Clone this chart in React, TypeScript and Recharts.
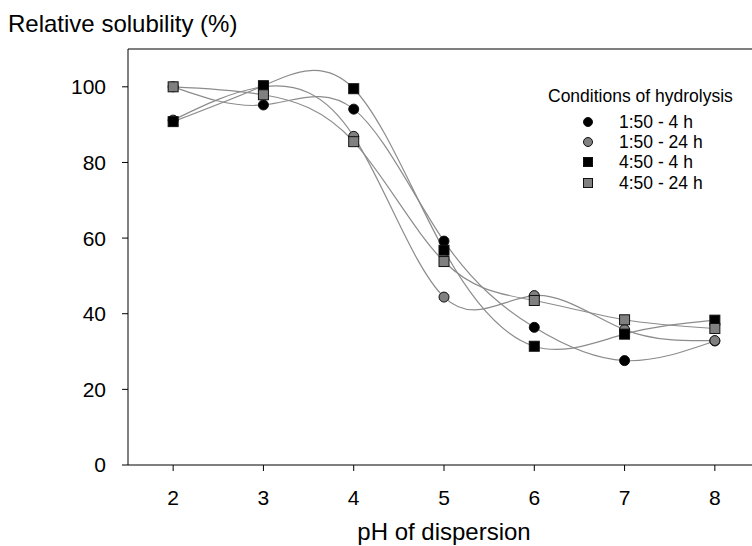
import React from "react";
import {
  LineChart,
  Line,
  XAxis,
  YAxis,
  ReferenceLine,
} from "recharts";

// pH values on the x axis
const PH = [2, 3, 4, 5, 6, 7, 8];

// relative solubility (%) per hydrolysis condition
const S_150_4H = [100, 95.2, 94.1, 59.2, 36.4, 27.6, 32.8];
const S_150_24H = [91.2, 100, 86.9, 44.4, 44.8, 35.8, 32.9];
const S_450_4H = [90.8, 100.3, 99.5, 56.8, 31.4, 34.6, 38.3];
const S_450_24H = [100, 97.9, 85.5, 53.8, 43.5, 38.4, 36.1];

const Y_TICKS = [0, 20, 40, 60, 80, 100];

type Shape = "circle" | "square";

const SERIES: { key: string; name: string; shape: Shape; fill: string; values: number[] }[] = [
  { key: "a", name: "1:50 - 4 h", shape: "circle", fill: "#000000", values: S_150_4H },
  { key: "b", name: "1:50 - 24 h", shape: "circle", fill: "#808080", values: S_150_24H },
  { key: "c", name: "4:50 - 4 h", shape: "square", fill: "#000000", values: S_450_4H },
  { key: "d", name: "4:50 - 24 h", shape: "square", fill: "#808080", values: S_450_24H },
];

const data = PH.map((ph, i) => {
  const row: Record<string, number> = { ph };
  SERIES.forEach((s) => {
    row[s.key] = s.values[i];
  });
  return row;
});

const FONT = "'Liberation Sans', Arial, Helvetica, sans-serif";
const LINE_COLOR = "#8c8c8c";

function Marker({ cx, cy, shape, fill, size = 10 }: { cx: number; cy: number; shape: Shape; fill: string; size?: number }) {
  if (cx == null || cy == null) return null;
  const h = size / 2;
  if (shape === "circle") {
    return <circle cx={cx} cy={cy} r={h} fill={fill} stroke="#111" strokeWidth={1} />;
  }
  return <rect x={cx - h} y={cy - h} width={size} height={size} fill={fill} stroke="#111" strokeWidth={1} />;
}

// legend sits inside the plot, upper right
function LegendBox() {
  return (
    <div style={{ position: "absolute", left: 548, top: 86, fontFamily: FONT, color: "#000" }}>
      <div style={{ fontSize: 17.5, lineHeight: "20px", whiteSpace: "nowrap" }}>Conditions of hydrolysis</div>
      <div style={{ marginTop: 5.5 }}>
        {SERIES.map((s) => (
          <div key={s.key} style={{ display: "flex", alignItems: "center", height: 20.3 }}>
            <svg width={20} height={14} style={{ marginLeft: 30 }}>
              <Marker cx={10} cy={7} shape={s.shape} fill={s.fill} size={9} />
            </svg>
            <span style={{ fontSize: 17.5, lineHeight: "20px", marginLeft: 21, whiteSpace: "nowrap" }}>{s.name}</span>
          </div>
        ))}
      </div>
    </div>
  );
}

export default function App() {
  return (
    <div
      style={{
        position: "fixed",
        left: 0,
        top: 0,
        width: 752,
        height: 546,
        overflow: "hidden",
        background: "#fff",
      }}
    >
      <div
        style={{
          position: "absolute",
          left: 8,
          top: 12,
          fontFamily: FONT,
          fontSize: 24,
          lineHeight: "24px",
          color: "#000",
          whiteSpace: "nowrap",
        }}
      >
        Relative solubility (%)
      </div>
      <LineChart
        width={762}
        height={546}
        data={data}
        margin={{ top: 49, right: 2, bottom: 0, left: 0 }}
        style={{ fontFamily: FONT }}
      >
        <XAxis
          dataKey="ph"
          type="number"
          domain={[1.5, 8.5]}
          ticks={PH}
          height={81}
          tickSize={6}
          tickMargin={19}
          axisLine={{ stroke: "#000" }}
          tickLine={{ stroke: "#000" }}
          tick={{ fontSize: 21, fill: "#000" }}
          label={{ value: "pH of dispersion", position: "insideBottom", offset: 6, fontSize: 24, fill: "#000" }}
        />
        <YAxis
          type="number"
          domain={[0, 110]}
          ticks={Y_TICKS}
          width={128}
          tickSize={6}
          tickMargin={16}
          axisLine={{ stroke: "#000" }}
          tickLine={{ stroke: "#000" }}
          tick={{ fontSize: 21, fill: "#000" }}
        />
        <ReferenceLine y={110} stroke="#000" strokeWidth={1} />
        {SERIES.map((s) => (
          <Line
            key={s.key}
            dataKey={s.key}
            name={s.name}
            type="natural"
            stroke={LINE_COLOR}
            strokeWidth={1.2}
            isAnimationActive={false}
            dot={(p: any) => (
              <Marker key={`${s.key}-${p.index}`} cx={p.cx} cy={p.cy} shape={s.shape} fill={s.fill} />
            )}
            activeDot={false}
          />
        ))}
      </LineChart>
      <LegendBox />
    </div>
  );
}
